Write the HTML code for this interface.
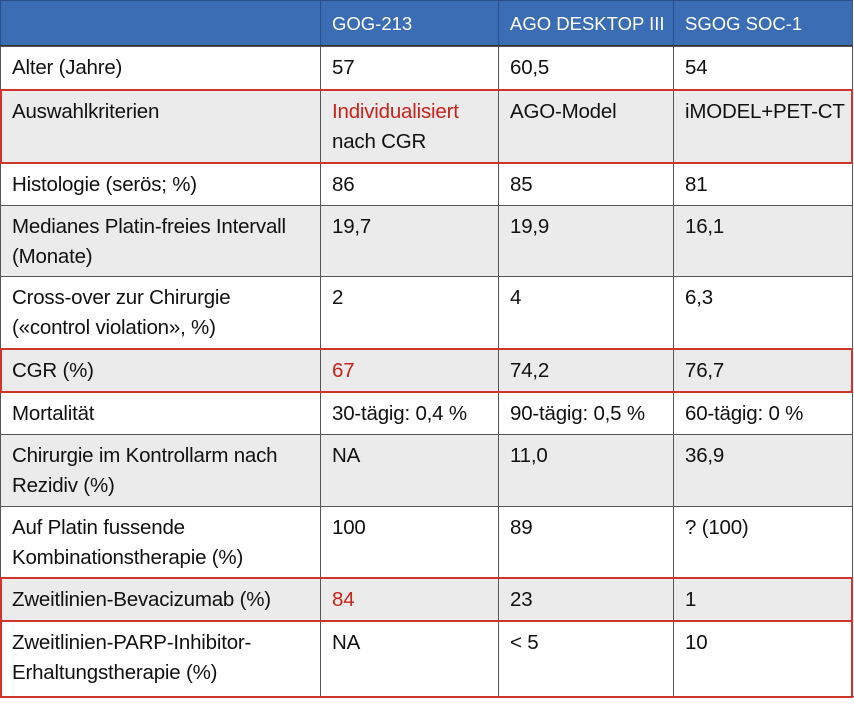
<!DOCTYPE html>
<html><head><meta charset="utf-8"><style>
body{margin:0;width:854px;height:708px;background:#fff;position:relative;font-family:"Liberation Sans",sans-serif;overflow:hidden}
.r{position:absolute;left:0;width:853px;box-sizing:border-box}
.c{position:absolute;top:0;bottom:0;box-sizing:border-box;border-left:1px solid #555;padding:6px 0 0 11px;font-size:20.5px;line-height:30px;color:#111;white-space:nowrap;letter-spacing:-0.2px}
.g{background:#ebebeb}
.h{background:#3b6db4;border-top:1px solid #2a4f8a;border-bottom:1px solid #333}
.h .c{color:#fff;border-left-color:#2a4f8a;font-size:18.5px;padding-top:8px;letter-spacing:0}
.line{position:absolute;left:0;width:854px;height:1px;background:#555}
.red{position:absolute;left:0;width:853px;box-sizing:border-box;border:2px solid #d0352b}
.rt{color:#c8231c}
</style></head><body>
<div id="tbl"></div>
<script>
const rowsY=[0,46,90,163,205,276,349,392,434,506,578,621,697];
const colX=[0,320,498,673,853];
const cells=[
["","GOG-213","AGO DESKTOP III","SGOG SOC-1"],
["Alter (Jahre)","57","60,5","54"],
["Auswahlkriterien","<span class='rt'>Individualisiert</span><br>nach CGR","AGO-Model","iMODEL+PET-CT"],
["Histologie (serös; %)","86","85","81"],
["Medianes Platin-freies Intervall<br>(Monate)","19,7","19,9","16,1"],
["Cross-over zur Chirurgie<br>(«control violation», %)","2","4","6,3"],
["CGR (%)","<span class='rt'>67</span>","74,2","76,7"],
["Mortalität","30-tägig: 0,4 %","90-tägig: 0,5 %","60-tägig: 0 %"],
["Chirurgie im Kontrollarm nach<br>Rezidiv (%)","NA","11,0","36,9"],
["Auf Platin fussende<br>Kombinationstherapie (%)","100","89","? (100)"],
["Zweitlinien-Bevacizumab (%)","<span class='rt'>84</span>","23","1"],
["Zweitlinien-PARP-Inhibitor-<br>Erhaltungstherapie (%)","NA","&lt; 5","10"]];
const gray=[2,4,6,8,10];
const red=[2,6,10,11];
const t=document.getElementById('tbl');
cells.forEach((row,i)=>{
 const r=document.createElement('div');
 
 
 r.className='r'+(i==0?' h':'')+(gray.includes(i)?' g':'');
 r.style.top=rowsY[i]+'px';r.style.height=(rowsY[i+1]-rowsY[i])+'px';
 if(i>0){r.style.borderTop='1px solid #555';}
 row.forEach((txt,j)=>{
  const c=document.createElement('div');
  
  
  c.className='c';c.style.left=colX[j]+'px';c.style.width=(colX[j+1]-colX[j])+'px';
  c.innerHTML=txt;r.appendChild(c);
 });
 const e=document.createElement('div');
 e.style.cssText='position:absolute;right:0;top:0;bottom:0;border-right:1px solid #555';
 r.appendChild(e);
 t.appendChild(r);
});
const b=document.createElement('div');
b.className='line';b.style.top='696px';


t.appendChild(b);
red.forEach(i=>{
 const d=document.createElement('div');
 
 
 d.className='red';d.style.top=(rowsY[i]-1)+'px';d.style.height=(rowsY[i+1]-rowsY[i]+2)+'px';
 t.appendChild(d);
});
</script>
</body></html>
